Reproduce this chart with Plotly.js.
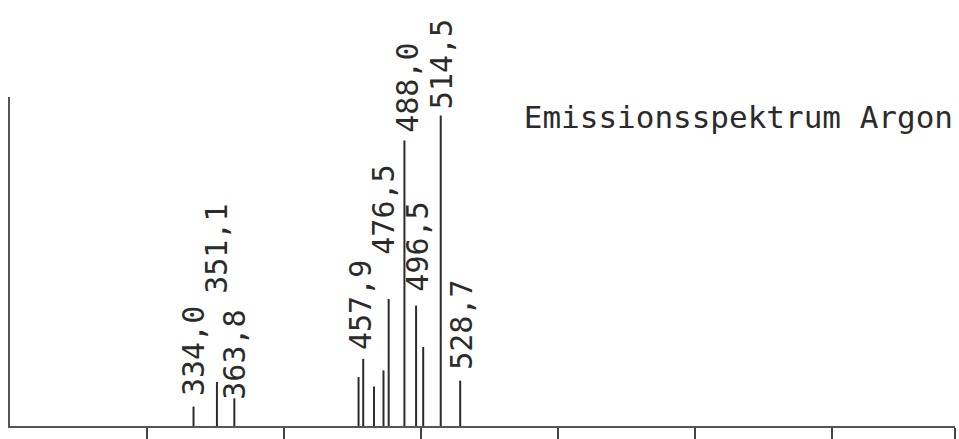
<!DOCTYPE html>
<html>
<head>
<meta charset="utf-8">
<script src="https://cdn.plot.ly/plotly-3.0.1.min.js"></script>
<style>
  html, body { margin: 0; padding: 0; background: #fff; }
  #chart { width: 959px; height: 439px; }
</style>
</head>
<body>
<div id="chart"></div>
<script>
// ---- data ----
var wavelengths = [334.0, 351.1, 363.8, 454.5, 457.9, 465.8, 472.7, 476.5, 488.0, 496.5, 501.7, 514.5, 528.7];
var intensities = [5.9, 13.4, 8.4, 14.9, 20.4, 12.0, 16.9, 38.6, 86.8, 36.6, 24.0, 94.4, 13.8];
var lineLabels  = ["334,0", "351,1", "363,8", "", "457,9", "", "", "476,5", "488,0", "496,5", "", "514,5", "528,7"];
var xTickVals   = [300, 400, 500, 600, 700, 800];
var chartTitle  = "Emissionsspektrum Argon";
var xMin = 200, xMax = 890;

// ---- label placement (layout, px) ----
var labelDx  = [0, 0, 0, 0, -2, 0, 0, -6, 3, 2, 0, 1, 1];
var labelGap = [9, 87, -2, 0, 8, 0, 0, 43, 7, 13, 0, 5, 10];

var ink = '#2b2b2b';
var monoFont = 'DejaVu Sans Mono, Liberation Mono, monospace';

// stems built from the arrays
var sx = [], sy = [];
for (var i = 0; i < wavelengths.length; i++) {
  sx.push(wavelengths[i], wavelengths[i], null);
  sy.push(0, intensities[i], null);
}

var traces = [{
  type: 'scatter', mode: 'lines',
  x: sx, y: sy,
  line: { color: ink, width: 2 },
  hoverinfo: 'skip', showlegend: false
}];

var annotations = [];
for (var j = 0; j < wavelengths.length; j++) {
  if (!lineLabels[j]) continue;
  annotations.push({
    x: wavelengths[j], y: intensities[j], xref: 'x', yref: 'y',
    text: lineLabels[j], showarrow: false, textangle: -90,
    xanchor: 'center', yanchor: 'bottom',
    xshift: labelDx[j], yshift: labelGap[j],
    font: { family: monoFont, size: 30, color: ink },
    borderpad: 0
  });
}

var layout = {
  width: 959, height: 439,
  paper_bgcolor: '#fff', plot_bgcolor: '#fff',
  margin: { l: 10, r: 4, t: 97, b: 13, pad: 0 },
  showlegend: false,
  title: {
    text: chartTitle,
    font: { family: monoFont, size: 31, color: ink },
    xref: 'container', yref: 'container',
    x: 953 / 959, xanchor: 'right',
    y: 1 - 117 / 439, yanchor: 'middle'
  },
  xaxis: {
    range: [xMin, xMax], showgrid: false, zeroline: false,
    showline: true, linecolor: '#555', linewidth: 2,
    tickmode: 'array', tickvals: xTickVals.concat([xMax]), ticktext: xTickVals.map(function(){return '';}).concat(['']),
    ticks: 'outside', ticklen: 13, tickwidth: 2, tickcolor: '#444',
    showticklabels: false, fixedrange: true
  },
  yaxis: {
    range: [0, 100], showgrid: false, zeroline: false,
    showline: true, linecolor: '#555', linewidth: 2,
    ticks: '', showticklabels: false, fixedrange: true
  },
  annotations: annotations
};

Plotly.newPlot('chart', traces, layout, { staticPlot: true, displayModeBar: false });
</script>
</body>
</html>
